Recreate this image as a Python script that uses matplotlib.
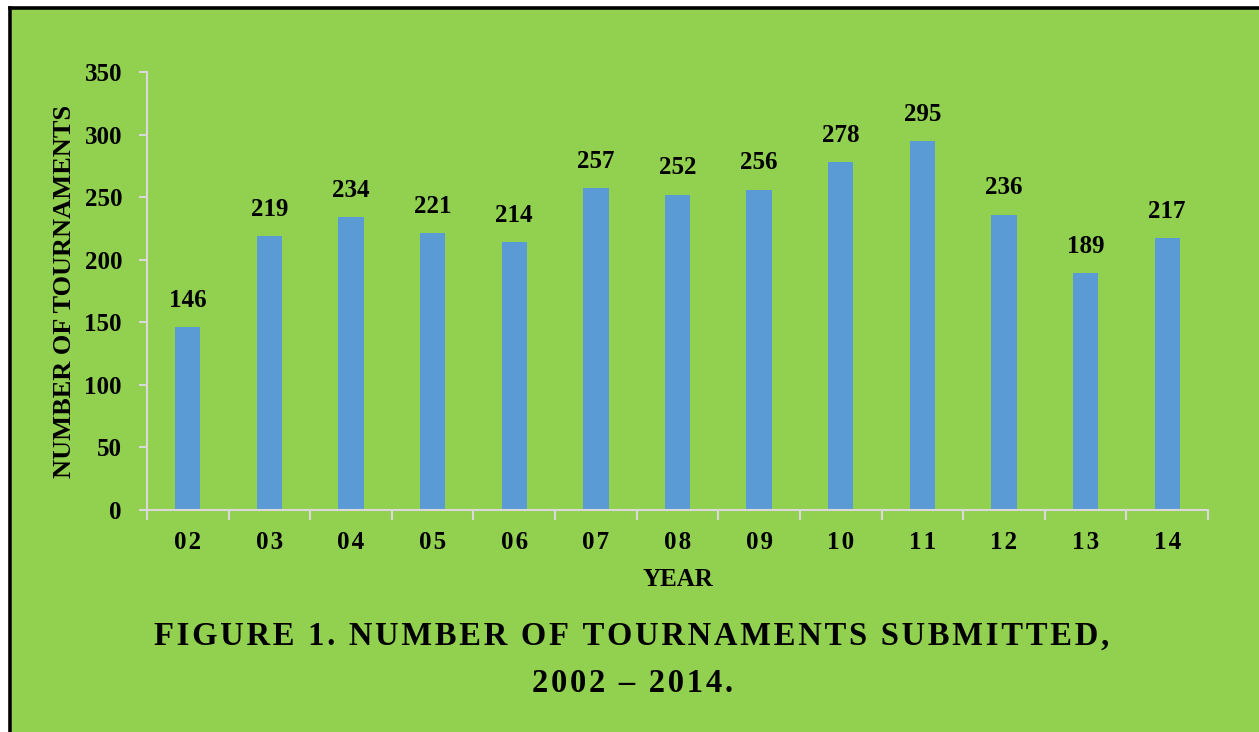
import matplotlib
matplotlib.use("Agg")
import matplotlib.pyplot as plt
from matplotlib.patches import Rectangle
from matplotlib.lines import Line2D

years = ["02", "03", "04", "05", "06", "07", "08", "09", "10", "11", "12", "13", "14"]
tournaments = [146, 219, 234, 221, 214, 257, 252, 256, 278, 295, 236, 189, 217]
y_ticks = [0, 50, 100, 150, 200, 250, 300, 350]

W, H = 1259, 732
fig = plt.figure(figsize=(W / 100, H / 100), dpi=100)
fig.patch.set_facecolor("white")

green = "#92D050"
bar_color = "#5B9BD5"
axis_grey = "#D9D9D9"
plt.rcParams["font.family"] = ["Liberation Serif", "DejaVu Serif"]

# background panel and black border
fig.patches.append(Rectangle((12 / W, 0), 1, 1 - 9 / H, transform=fig.transFigure,
                             facecolor=green, edgecolor="none", zorder=-5))
fig.lines.append(Line2D([10.5 / W, 1], [1 - 7.5 / H, 1 - 7.5 / H], transform=fig.transFigure,
                        color="black", linewidth=2.6, zorder=-4))
fig.lines.append(Line2D([10.5 / W, 10.5 / W], [0, 1 - 7.5 / H], transform=fig.transFigure,
                        color="black", linewidth=2.6, zorder=-4))

ax = fig.add_axes([147 / W, 1 - 510 / H, (1208 - 147) / W, (510 - 72) / H])
ax.set_zorder(5)
ax.set_facecolor("none")

x = list(range(len(years)))
bars = ax.bar(x, tournaments, width=0.31, color=bar_color, zorder=2)
ax.set_xlim(-0.5, len(years) - 0.5)
ax.set_ylim(0, 350)

for xi, v in zip(x, tournaments):
    ax.annotate(str(v), (xi, v), xytext=(0, 11), textcoords="offset points",
                ha="center", va="bottom", fontsize=18, fontweight="bold")

for s in ["top", "right"]:
    ax.spines[s].set_visible(False)
for s in ["left", "bottom"]:
    ax.spines[s].set_color(axis_grey)
    ax.spines[s].set_linewidth(1.5)

ax.set_yticks(y_ticks)
ax.set_yticklabels([str(t) for t in y_ticks], fontsize=18, fontweight="bold")
ax.tick_params(axis="y", length=6, width=1.5, color=axis_grey, pad=12)

ax.set_xticks(x)
ax.set_xticklabels(["\u200a".join(list(y)) for y in years], fontsize=18, fontweight="bold")
ax.tick_params(axis="x", length=0, pad=15)
ax.set_xticks([i - 0.5 for i in range(len(years) + 1)], minor=True)
ax.tick_params(axis="x", which="minor", length=7, width=1.5, color=axis_grey)

ax.set_ylabel("NUMBER OF TOURNAMENTS", fontsize=19, fontweight="bold", labelpad=6)
ax.set_xlabel("YEAR", fontsize=18, fontweight="bold", labelpad=10)

def spaced(s):
    return "\u200a".join(list(s))

fig.text(632 / W, 1 - 636 / H, spaced("FIGURE 1. NUMBER OF TOURNAMENTS SUBMITTED,"),
         ha="center", va="center", fontsize=23.5, fontweight="bold")
fig.text(632 / W, 1 - 683 / H, spaced("2002 \u2013 2014."),
         ha="center", va="center", fontsize=23.5, fontweight="bold")

fig.savefig("out.png", dpi=100, facecolor=fig.get_facecolor())
